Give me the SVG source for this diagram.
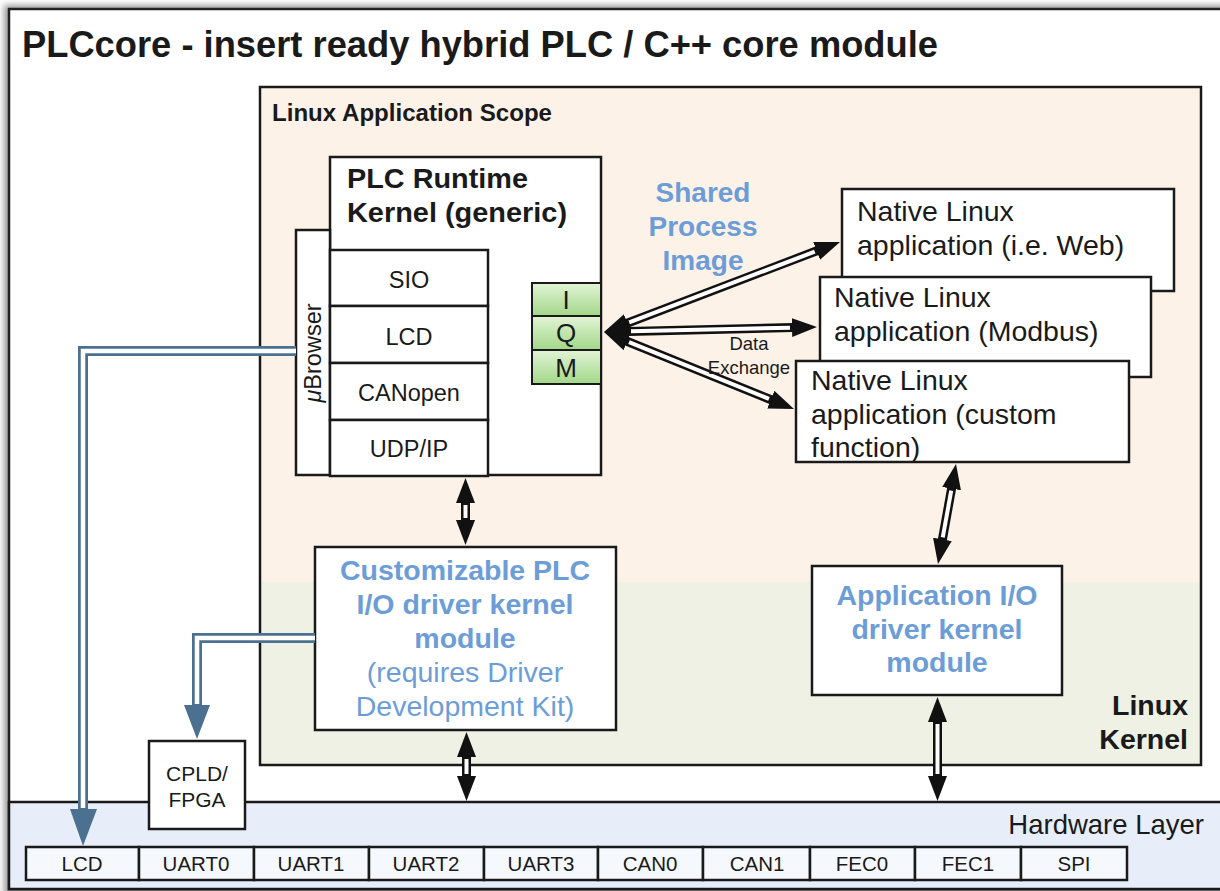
<svg xmlns="http://www.w3.org/2000/svg" width="1220" height="891" viewBox="0 0 1220 891">
<defs>
<style>
.t{font-family:"Liberation Sans",Arial,sans-serif;fill:#1a1a1a}
.b{font-weight:bold}
.blue{fill:#6d9dd6}
.c{text-anchor:middle}
.e{text-anchor:end}
.box{fill:#fff;stroke:#1a1a1a;stroke-width:2.5}
.cell{fill:#f5f8fd;stroke:#1a1a1a;stroke-width:2.5}
.blk{fill:none;stroke:#111;stroke-width:9;marker-start:url(#ah);marker-end:url(#ah)}
.wht{fill:none;stroke:#fff;stroke-width:4}
.pipe{fill:none;stroke:#4c7190;stroke-width:10}
.pipew{fill:none;stroke:#fff;stroke-width:4.5}
</style>
<linearGradient id="gr" x1="0" y1="0" x2="0" y2="1">
<stop offset="0" stop-color="#e2f4d6"/>
<stop offset="1" stop-color="#a2d788"/>
</linearGradient>
<filter id="sh" x="-5%" y="-5%" width="110%" height="110%"><feGaussianBlur stdDeviation="3"/></filter>
<marker id="ah" viewBox="0 -10 25 20" refX="1" refY="0" markerWidth="25" markerHeight="20" markerUnits="userSpaceOnUse" orient="auto-start-reverse">
<path d="M0,-9.5 L25,0 L0,9.5 z" fill="#111"/>
</marker>
</defs>
<rect width="1220" height="891" fill="#fff"/>
<rect x="4" y="5" width="1240" height="895" fill="#9a9a9a" filter="url(#sh)"/>
<rect id="frame" x="9" y="9" width="1230" height="880" fill="#fff" stroke="#222" stroke-width="2.5"/>
<text class="t b" x="22" y="57" font-size="36" textLength="916" lengthAdjust="spacingAndGlyphs">PLCcore - insert ready hybrid PLC / C++ core module</text>

<g id="linux-scope">
<rect x="260" y="87" width="941" height="495" fill="#fdf2e8"/>
<rect x="260" y="582" width="941" height="183" fill="#eef1e3"/>
<rect x="260" y="87" width="941" height="678" fill="none" stroke="#1a1a1a" stroke-width="2.5"/>
<text class="t b" x="272" y="121" font-size="23" textLength="280" lengthAdjust="spacingAndGlyphs">Linux Application Scope</text>
<text class="t b e" x="1188" y="715" font-size="28.5">Linux</text>
<text class="t b e" x="1188" y="749" font-size="28.5">Kernel</text>
</g>

<g id="hardware">
<rect x="9" y="802" width="1230" height="87" fill="#e7eef9" stroke="#1a1a1a" stroke-width="2.5"/>
<text class="t e" x="1204" y="834" font-size="27.5">Hardware Layer</text>
<rect class="cell" x="26" y="847" width="113" height="33"/>
<rect class="cell" x="139" y="847" width="115" height="33"/>
<rect class="cell" x="254" y="847" width="115" height="33"/>
<rect class="cell" x="369" y="847" width="115" height="33"/>
<rect class="cell" x="484" y="847" width="114" height="33"/>
<rect class="cell" x="598" y="847" width="105" height="33"/>
<rect class="cell" x="703" y="847" width="107" height="33"/>
<rect class="cell" x="810" y="847" width="105" height="33"/>
<rect class="cell" x="915" y="847" width="106" height="33"/>
<rect class="cell" x="1021" y="847" width="106" height="33"/>
<g class="t c" font-size="20.5">
<text x="82" y="871">LCD</text>
<text x="196" y="871">UART0</text>
<text x="311" y="871">UART1</text>
<text x="426" y="871">UART2</text>
<text x="541" y="871">UART3</text>
<text x="650" y="871">CAN0</text>
<text x="757" y="871">CAN1</text>
<text x="862" y="871">FEC0</text>
<text x="968" y="871">FEC1</text>
<text x="1074" y="871">SPI</text>
</g>
</g>

<g id="cpld">
<rect class="box" x="149" y="741" width="96" height="88"/>
<text class="t c" x="197" y="781" font-size="21">CPLD/</text>
<text class="t c" x="197" y="807" font-size="21">FPGA</text>
</g>

<g id="plc-runtime">
<rect class="box" x="330" y="157" width="271" height="318"/>
<text class="t b" x="347" y="188" font-size="28" textLength="181" lengthAdjust="spacingAndGlyphs">PLC Runtime</text>
<text class="t b" x="347" y="222" font-size="28" textLength="220" lengthAdjust="spacingAndGlyphs">Kernel (generic)</text>
</g>

<g id="ubrowser">
<rect class="box" x="296" y="230" width="34" height="245"/>
<text class="t c" transform="translate(321,353) rotate(-90)" font-size="23.5"><tspan font-style="italic">μ</tspan>Browser</text>
</g>

<g id="stack">
<rect class="box" x="330" y="250" width="158" height="56"/>
<rect class="box" x="330" y="306" width="158" height="57"/>
<rect class="box" x="330" y="363" width="158" height="57"/>
<rect class="box" x="330" y="420" width="158" height="56"/>
<g class="t c" font-size="23.5">
<text x="409" y="288">SIO</text>
<text x="409" y="345">LCD</text>
<text x="409" y="401">CANopen</text>
<text x="409" y="457">UDP/IP</text>
</g>
</g>

<g id="iqm">
<rect x="532" y="283" width="69" height="33" fill="url(#gr)" stroke="#1a1a1a" stroke-width="2"/>
<rect x="532" y="316" width="69" height="34" fill="url(#gr)" stroke="#1a1a1a" stroke-width="2"/>
<rect x="532" y="350" width="69" height="34" fill="url(#gr)" stroke="#1a1a1a" stroke-width="2"/>
<g class="t c" font-size="26">
<text x="566" y="309">I</text>
<text x="566" y="342">Q</text>
<text x="566" y="377">M</text>
</g>
</g>

<g id="shared-image">
<text class="t b c blue" x="703" y="202" font-size="28">Shared</text>
<text class="t b c blue" x="703" y="236" font-size="28">Process</text>
<text class="t b c blue" x="703" y="270" font-size="28">Image</text>
</g>

<g id="native-web">
<rect class="box" x="842" y="189" width="332" height="102"/>
<text class="t" x="857" y="221" font-size="28.5">Native Linux</text>
<text class="t" x="857" y="255" font-size="28.5">application (i.e. Web)</text>
</g>
<g id="native-modbus">
<rect class="box" x="820" y="277" width="331" height="100"/>
<text class="t" x="834" y="307" font-size="28.5">Native Linux</text>
<text class="t" x="834" y="341" font-size="28.5">application (Modbus)</text>
</g>
<g id="native-custom">
<rect class="box" x="796" y="361" width="333" height="101"/>
<text class="t" x="811" y="390" font-size="28.5">Native Linux</text>
<text class="t" x="811" y="424" font-size="28.5">application (custom</text>
<text class="t" x="811" y="457" font-size="28.5">function)</text>
</g>

<g id="plc-io-driver">
<rect class="box" x="315" y="547" width="301" height="183"/>
<text class="t b c blue" x="465" y="580" font-size="28.5">Customizable PLC</text>
<text class="t b c blue" x="465" y="614" font-size="28.5">I/O driver kernel</text>
<text class="t b c blue" x="465" y="648" font-size="28.5">module</text>
<text class="t c blue" x="465" y="682" font-size="28.5">(requires Driver</text>
<text class="t c blue" x="465" y="716" font-size="28.5">Development Kit)</text>
</g>

<g id="app-io-driver">
<rect class="box" x="812" y="566" width="250" height="129"/>
<text class="t b c blue" x="937" y="605" font-size="28.5">Application I/O</text>
<text class="t b c blue" x="937" y="639" font-size="28.5">driver kernel</text>
<text class="t b c blue" x="937" y="672" font-size="28.5">module</text>
</g>

<g id="connectors">
<path class="pipe" d="M296,351 H83 V810"/>
<path class="pipew" d="M296,351 H83 V808"/>
<polygon points="70,809 97,809 83,846" fill="#4c7190"/>
<path class="pipe" d="M315,638 H197 V706"/>
<path class="pipew" d="M315,638 H197 V704"/>
<polygon points="184,705 210,705 197,739" fill="#4c7190"/>

<path class="blk" d="M626.42,323.45 L817.58,250.55"/>
<path class="blk" d="M627.99,331.44 L793.01,327.56"/>
<path class="blk" d="M626.24,341.01 L771.76,399.99"/>
<path class="blk" d="M465.5,502 V521"/>
<path class="blk" d="M466.5,756 V777"/>
<path class="blk" d="M951.75,487.62 L942.25,540.38"/>
<path class="blk" d="M937.5,721 V777"/>
<path class="wht" d="M629.23,322.38 L814.77,251.62"/>
<path class="wht" d="M630.99,331.37 L790.01,327.63"/>
<path class="wht" d="M629.02,342.14 L768.98,398.86"/>
<path class="wht" d="M465.5,505 V518"/>
<path class="wht" d="M466.5,759 V774"/>
<path class="wht" d="M951.22,490.57 L942.78,537.43"/>
<path class="wht" d="M937.5,724 V774"/>
<text class="t c" x="749" y="350" font-size="18.5">Data</text>
<text class="t c" x="749" y="374" font-size="18.5">Exchange</text>
</g>
</svg>
